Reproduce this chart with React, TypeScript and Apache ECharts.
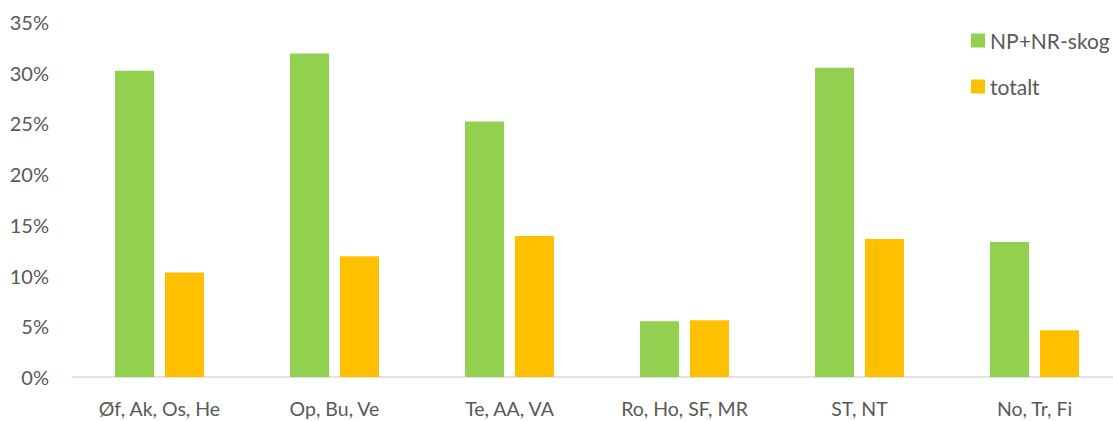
import React, { useEffect, useRef } from "react";
import * as echarts from "echarts";

const categories = ["Øf, Ak, Os, He", "Op, Bu, Ve", "Te, AA, VA", "Ro, Ho, SF, MR", "ST, NT", "No, Tr, Fi"];
const seriesNames = ["NP+NR-skog", "totalt"];
const npnrValues = [30.2, 31.9, 25.2, 5.5, 30.5, 13.3];
const totaltValues = [10.3, 11.9, 13.9, 5.6, 13.6, 4.6];
const colors = ["#92D050", "#FFC000"];

export default function App() {
  const ref = useRef<HTMLDivElement>(null);
  useEffect(() => {
    if (!ref.current) return;
    const chart = echarts.init(ref.current, null, { renderer: "svg" });
    const font = "Lato, 'Open Sans', sans-serif";
    chart.setOption({
      animation: false,
      textStyle: { fontFamily: font },
      grid: { left: 72, top: 22, width: 1050, height: 355, containLabel: false },
      legend: {
        orient: "vertical",
        left: 966,
        top: 25,
        itemWidth: 14,
        itemHeight: 14,
        itemGap: 25,
        icon: "rect",
        textStyle: { fontSize: 21, color: "#595959", fontFamily: font },
        data: seriesNames,
      },
      xAxis: {
        type: "category",
        data: categories,
        axisLine: { lineStyle: { color: "#d9d9d9", width: 1.5 } },
        axisTick: { show: false },
        axisLabel: { color: "#595959", fontSize: 19.5, margin: 21, fontFamily: font },
      },
      yAxis: {
        type: "value",
        min: 0,
        max: 35,
        interval: 5,
        splitLine: { show: false },
        axisLine: { show: false },
        axisTick: { show: false },
        axisLabel: { color: "#595959", fontSize: 20, margin: 23, formatter: "{value}%", fontFamily: font },
      },
      series: [
        { name: seriesNames[0], type: "bar", data: npnrValues, barWidth: 39, barGap: "28%", itemStyle: { color: colors[0] } },
        { name: seriesNames[1], type: "bar", data: totaltValues, barWidth: 39, barGap: "28%", itemStyle: { color: colors[1] } },
      ],
    });
    return () => chart.dispose();
  }, []);
  return (
    <div style={{ position: "absolute", left: 0, top: 0, width: 1113, height: 421, overflow: "hidden" }}>
      <div ref={ref} style={{ width: 1130, height: 421 }} />
    </div>
  );
}
